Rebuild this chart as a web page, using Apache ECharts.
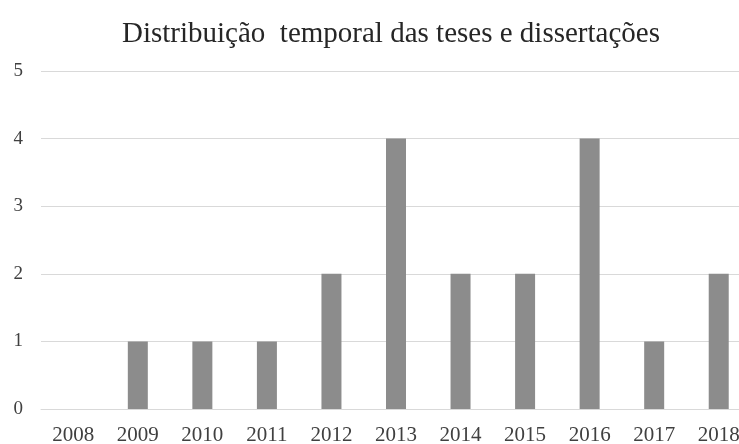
<!DOCTYPE html>
<html><head><meta charset="utf-8">
<script src="https://cdn.jsdelivr.net/npm/echarts@6/dist/echarts.min.js"></script>
<style>html,body{margin:0;padding:0;background:#fff;overflow:hidden;width:739px;height:444px}#c{width:751px;height:444px}</style>
</head><body><div id="c"></div>
<script>
const title = 'Distribuição  temporal das teses e dissertações';
const categories = ['2008','2009','2010','2011','2012','2013','2014','2015','2016','2017','2018'];
const values = [0,1,1,1,2,4,2,2,4,1,2];
const yTicks = [0,1,2,3,4,5];

const chart = echarts.init(document.getElementById('c'), null, {renderer:'canvas'});
chart.setOption({
  animation:false,
  backgroundColor:'#fff',
  title:{text:title,left:117,top:15,textStyle:{fontFamily:'Liberation Serif',fontSize:29,fontWeight:'normal',color:'#262626'}},
  grid:{left:41,right:0,top:71,bottom:35,outerBoundsMode:'none',containLabel:false},
  xAxis:{type:'category',data:categories,
    axisLine:{lineStyle:{color:'#d9d9d9'}},axisTick:{show:false},
    axisLabel:{fontFamily:'Liberation Serif',fontSize:21,color:'#404040',margin:16,interval:0}},
  yAxis:{type:'value',min:yTicks[0],max:yTicks[yTicks.length-1],interval:1,
    axisLine:{show:false},axisTick:{show:false},
    splitLine:{lineStyle:{color:'#d9d9d9'}},
    axisLabel:{fontFamily:'Liberation Serif',fontSize:19,color:'#404040',margin:18}},
  series:[{type:'bar',data:values,barWidth:20,itemStyle:{color:'#8c8c8c'}}]
});
</script></body></html>
